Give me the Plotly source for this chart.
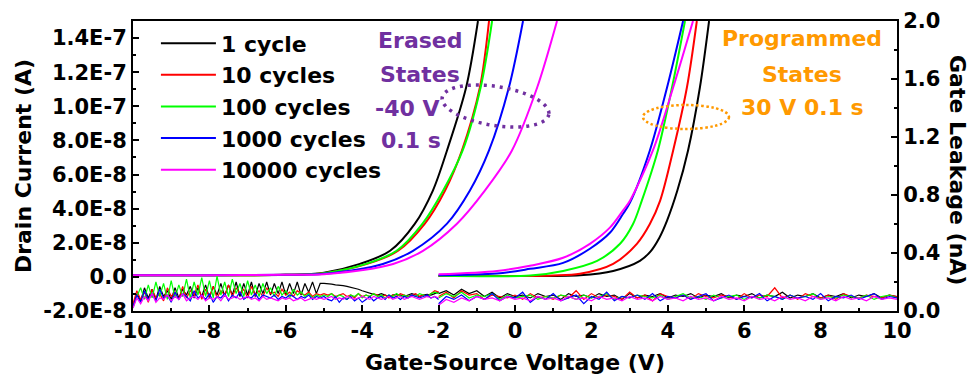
import numpy as np
import plotly.graph_objects as go

# ---------------- data ----------------
series_names = ["1 cycle", "10 cycles", "100 cycles", "1000 cycles", "10000 cycles"]
series_colors = ["#000000", "#FF0000", "#00FF00", "#0000FF", "#FF00FF"]

# Erased-state transfer curves: gate voltage (V), drain current (units of 1e-8 A)
erased_v = [
    [-10, -8, -6, -5.0, -4.06, -3.27, -2.62, -2.15, -1.78, -1.28, -0.97],
    [-10, -8, -6, -5.0, -3.87, -3.06, -2.36, -1.83, -1.39, -0.92, -0.68],
    [-10, -8, -6, -5.0, -3.90, -3.10, -2.42, -1.88, -1.37, -0.90, -0.60],
    [-10, -8, -6, -5.0, -3.46, -2.67, -1.78, -1.18, -0.68, -0.16, 0.21],
    [-10, -8, -6, -5.0, -3.19, -2.41, -1.52, -0.79, -0.08, 0.58, 1.10],
]
erased_i = [
    [0.10, 0.10, 0.12, 0.25, 0.76, 1.53, 3.12, 5.06, 7.41, 11.1, 15.0],
    [0.10, 0.10, 0.12, 0.22, 0.76, 1.53, 3.12, 5.06, 7.41, 11.1, 15.0],
    [0.10, 0.10, 0.12, 0.22, 0.76, 1.53, 3.12, 5.06, 7.41, 11.1, 15.0],
    [0.10, 0.10, 0.12, 0.18, 0.76, 1.53, 3.12, 5.06, 7.41, 11.1, 15.0],
    [0.10, 0.10, 0.12, 0.16, 0.76, 1.53, 3.12, 5.06, 7.41, 11.1, 15.0],
]

# Programmed-state transfer curves
prog_v = [
    [-2, 0, 1.7, 2.57, 3.27, 3.55, 3.78, 3.98, 4.25, 4.53, 4.84, 5.08],
    [-2, 0, 1.0, 1.70, 2.57, 3.19, 3.53, 3.80, 4.14, 4.50, 4.76],
    [-2, 0.4, 1.26, 2.15, 2.75, 3.09, 3.32, 3.74, 4.11, 4.45],
    [-2, -0.47, 0.39, 1.26, 1.96, 2.49, 2.83, 3.01, 3.53, 3.98, 4.40],
    [-2, -0.47, 0.39, 1.26, 1.96, 2.49, 2.83, 3.01, 3.61, 4.14, 4.66],
]
prog_i = [
    [0.05, 0.05, 0.10, 0.35, 0.94, 1.5, 2.3, 3.3, 5.06, 7.41, 11.1, 15.0],
    [0.05, 0.05, 0.08, 0.18, 0.76, 1.94, 3.1, 4.47, 7.41, 11.1, 15.0],
    [0.06, 0.08, 0.35, 0.94, 1.94, 3.1, 4.47, 7.41, 11.1, 15.0],
    [0.10, 0.20, 0.47, 0.82, 1.65, 2.6, 3.7, 4.35, 7.41, 11.1, 15.0],
    [0.15, 0.35, 0.65, 1.12, 1.94, 2.9, 3.9, 4.47, 7.41, 11.1, 15.0],
]

# Gate leakage (nA), erased sweep (-10 V .. -2 V)
leak_erased = [
    [0.03, 0.12, 0.07, 0.16, 0.09, 0.15, 0.08, 0.17, 0.10, 0.14,
     0.08, 0.16, 0.09, 0.15, 0.11, 0.17, 0.09, 0.16, 0.10, 0.18,
     0.09, 0.17, 0.11, 0.19, 0.10, 0.18, 0.11, 0.20, 0.10, 0.19,
     0.11, 0.20, 0.10, 0.19, 0.12, 0.20, 0.11, 0.19, 0.12, 0.20,
     0.11, 0.19, 0.12, 0.20, 0.11, 0.19, 0.13, 0.20, 0.12, 0.19, 0.19,
     0.19, 0.185, 0.18, 0.18, 0.175, 0.17, 0.165, 0.16, 0.15, 0.14,
     0.13, 0.12, 0.115, 0.11, 0.12, 0.11, 0.10, 0.11, 0.115, 0.11,
     0.10, 0.11, 0.12, 0.11, 0.10, 0.11, 0.115, 0.11, 0.12, 0.13],
    [0.05, 0.14, 0.08, 0.13, 0.06, 0.15, 0.09, 0.12, 0.07, 0.16,
     0.10, 0.13, 0.08, 0.17, 0.09, 0.14, 0.11, 0.18, 0.08, 0.15,
     0.10, 0.17, 0.09, 0.14, 0.11, 0.18, 0.10, 0.16, 0.12, 0.15,
     0.09, 0.17, 0.11, 0.14, 0.10, 0.16, 0.12, 0.13, 0.10, 0.15,
     0.11, 0.13, 0.10, 0.14, 0.12, 0.11, 0.13, 0.10, 0.12, 0.11, 0.12,
     0.11, 0.12, 0.10, 0.11, 0.12, 0.10, 0.11, 0.09, 0.12, 0.10,
     0.11, 0.10, 0.12, 0.11, 0.10, 0.11, 0.09, 0.11, 0.10, 0.12,
     0.11, 0.10, 0.11, 0.12, 0.10, 0.11, 0.10, 0.12, 0.14, 0.13],
    [0.02, 0.10, 0.16, 0.08, 0.18, 0.09, 0.20, 0.10, 0.19, 0.08,
     0.21, 0.09, 0.18, 0.10, 0.22, 0.09, 0.20, 0.11, 0.23, 0.10,
     0.21, 0.09, 0.24, 0.11, 0.20, 0.10, 0.22, 0.12, 0.19, 0.10,
     0.21, 0.11, 0.18, 0.10, 0.19, 0.12, 0.16, 0.10, 0.17, 0.11,
     0.14, 0.09, 0.15, 0.11, 0.13, 0.10, 0.12, 0.09, 0.11, 0.10, 0.11,
     0.10, 0.12, 0.09, 0.11, 0.10, 0.08, 0.11, 0.10, 0.12, 0.09,
     0.11, 0.10, 0.12, 0.10, 0.11, 0.09, 0.11, 0.10, 0.12, 0.10,
     0.11, 0.10, 0.11, 0.10, 0.12, 0.11, 0.10, 0.12, 0.13, 0.12],
    [0.03, 0.11, 0.06, 0.14, 0.08, 0.12, 0.07, 0.15, 0.09, 0.11,
     0.06, 0.13, 0.08, 0.12, 0.10, 0.07, 0.14, 0.09, 0.11, 0.08,
     0.12, 0.06, 0.10, 0.09, 0.12, 0.07, 0.11, 0.09, 0.13, 0.08,
     0.10, 0.09, 0.12, 0.08, 0.11, 0.10, 0.09, 0.11, 0.08, 0.10,
     0.09, 0.11, 0.10, 0.08, 0.10, 0.09, 0.11, 0.08, 0.10, 0.09, 0.10,
     0.08, 0.07, 0.10, 0.06, 0.09, 0.08, 0.10, 0.07, 0.09, 0.06,
     0.08, 0.10, 0.07, 0.09, 0.10, 0.08, 0.11, 0.09, 0.10, 0.08,
     0.10, 0.09, 0.11, 0.10, 0.09, 0.10, 0.11, 0.09, 0.10, 0.08],
    [0.02, 0.09, 0.05, 0.10, 0.07, 0.12, 0.06, 0.09, 0.08, 0.11,
     0.07, 0.10, 0.08, 0.12, 0.07, 0.09, 0.10, 0.08, 0.11, 0.07,
     0.09, 0.08, 0.10, 0.07, 0.11, 0.08, 0.09, 0.10, 0.08, 0.09,
     0.10, 0.08, 0.09, 0.07, 0.10, 0.08, 0.09, 0.08, 0.07, 0.09,
     0.08, 0.09, 0.07, 0.08, 0.09, 0.07, 0.08, 0.09, 0.08, 0.09, 0.08,
     0.09, 0.10, 0.08, 0.09, 0.08, 0.10, 0.09, 0.08, 0.09, 0.10,
     0.09, 0.08, 0.10, 0.09, 0.08, 0.09, 0.10, 0.08, 0.09, 0.10,
     0.08, 0.09, 0.10, 0.09, 0.08, 0.09, 0.10, 0.09, 0.10, 0.09],
]

# Gate leakage (nA), programmed sweep (-2 V .. 10 V)
leak_prog = [
    [0.12, 0.14, 0.11, 0.15, 0.12, 0.14, 0.10, 0.13, 0.09, 0.12, 0.10, 0.11, 0.09, 0.12, 0.10,
     0.11, 0.08, 0.12, 0.10, 0.11, 0.09, 0.12, 0.10, 0.11, 0.08, 0.12, 0.09, 0.11, 0.10, 0.12,
     0.09, 0.11, 0.10, 0.12, 0.09, 0.11, 0.10, 0.12, 0.09, 0.11, 0.10, 0.12, 0.09, 0.11, 0.10,
     0.13, 0.09, 0.11, 0.10, 0.12, 0.09, 0.11, 0.10, 0.12, 0.09, 0.11, 0.10, 0.12, 0.09, 0.11, 0.10],
    [0.10, 0.13, 0.09, 0.14, 0.11, 0.12, 0.08, 0.11, 0.10, 0.09, 0.11, 0.08, 0.12, 0.09, 0.10,
     0.08, 0.11, 0.09, 0.14, 0.08, 0.12, 0.09, 0.11, 0.10, 0.08, 0.13, 0.09, 0.11, 0.07, 0.12,
     0.10, 0.09, 0.11, 0.08, 0.12, 0.10, 0.09, 0.11, 0.10, 0.08, 0.12, 0.09, 0.11, 0.10, 0.16,
     0.09, 0.11, 0.08, 0.12, 0.10, 0.09, 0.11, 0.08, 0.12, 0.10, 0.09, 0.11, 0.10, 0.09, 0.11, 0.10],
    [0.09, 0.12, 0.10, 0.13, 0.09, 0.11, 0.10, 0.12, 0.08, 0.11, 0.09, 0.10, 0.11, 0.08, 0.10,
     0.09, 0.11, 0.10, 0.08, 0.11, 0.09, 0.10, 0.12, 0.08, 0.10, 0.09, 0.11, 0.10, 0.09, 0.11,
     0.08, 0.10, 0.12, 0.09, 0.10, 0.08, 0.11, 0.09, 0.10, 0.11, 0.08, 0.10, 0.09, 0.11, 0.10,
     0.08, 0.11, 0.09, 0.10, 0.12, 0.08, 0.10, 0.09, 0.11, 0.10, 0.09, 0.11, 0.08, 0.10, 0.11, 0.09],
    [0.05, 0.10, 0.08, 0.11, 0.07, 0.10, 0.08, 0.12, 0.07, 0.10, 0.09, 0.13, 0.06, 0.10, 0.08,
     0.12, 0.07, 0.09, 0.11, 0.05, 0.10, 0.08, 0.13, 0.07, 0.10, 0.09, 0.11, 0.08, 0.12, 0.07,
     0.10, 0.09, 0.11, 0.08, 0.10, 0.12, 0.07, 0.09, 0.11, 0.08, 0.10, 0.09, 0.12, 0.07, 0.10,
     0.08, 0.11, 0.09, 0.10, 0.08, 0.12, 0.07, 0.10, 0.09, 0.11, 0.08, 0.10, 0.12, 0.08, 0.10, 0.09],
    [0.04, 0.08, 0.06, 0.09, 0.07, 0.10, 0.08, 0.09, 0.07, 0.10, 0.08, 0.09, 0.07, 0.10, 0.08,
     0.09, 0.07, 0.10, 0.08, 0.09, 0.07, 0.10, 0.08, 0.09, 0.07, 0.10, 0.08, 0.09, 0.07, 0.10,
     0.08, 0.09, 0.07, 0.10, 0.08, 0.09, 0.07, 0.10, 0.08, 0.09, 0.07, 0.10, 0.08, 0.09, 0.07,
     0.10, 0.08, 0.09, 0.07, 0.10, 0.08, 0.09, 0.07, 0.10, 0.08, 0.09, 0.07, 0.10, 0.08, 0.09, 0.08],
]

x_tickvals = [-10, -8, -6, -4, -2, 0, 2, 4, 6, 8, 10]
x_ticktext = ["-10", "-8", "-6", "-4", "-2", "0", "2", "4", "6", "8", "10"]
left_tickvals = [-2e-8, 0, 2e-8, 4e-8, 6e-8, 8e-8, 1e-7, 1.2e-7, 1.4e-7]
left_ticktext = ["-2.0E-8", "0.0", "2.0E-8", "4.0E-8", "6.0E-8", "8.0E-8", "1.0E-7", "1.2E-7", "1.4E-7"]
right_tickvals = [0.0, 0.4, 0.8, 1.2, 1.6, 2.0]
right_ticktext = ["0.0", "0.4", "0.8", "1.2", "1.6", "2.0"]

# ---------------- figure ----------------
FONT = "DejaVu Sans"
fig = go.Figure()

# leakage (right axis)
for k in range(5):
    le = leak_erased[k]
    lp = leak_prog[k]
    fig.add_trace(go.Scatter(x=np.linspace(-10, -2, len(le)), y=le, mode="lines", yaxis="y2",
                             line=dict(color=series_colors[k], width=1.2),
                             legendgroup=series_names[k], showlegend=False, hoverinfo="skip"))
    fig.add_trace(go.Scatter(x=np.linspace(-2, 10, len(lp)), y=lp, mode="lines", yaxis="y2",
                             line=dict(color=series_colors[k], width=1.2),
                             legendgroup=series_names[k], showlegend=False, hoverinfo="skip"))

# transfer curves (left axis)
for k in range(5):
    fig.add_trace(go.Scatter(x=erased_v[k], y=np.array(erased_i[k]) * 1e-8, mode="lines",
                             name=series_names[k], legendgroup=series_names[k], showlegend=True,
                             line=dict(color=series_colors[k], width=2, shape="spline", smoothing=0.9)))
    fig.add_trace(go.Scatter(x=prog_v[k], y=np.array(prog_i[k]) * 1e-8, mode="lines",
                             name=series_names[k], legendgroup=series_names[k], showlegend=False,
                             line=dict(color=series_colors[k], width=2, shape="spline", smoothing=0.9)))

axis_common = dict(showline=True, linewidth=2, linecolor="black", ticks="inside", ticklen=6,
                   tickwidth=2, tickcolor="black", showgrid=False, zeroline=False, automargin=False)

fig.update_layout(
    width=977, height=381,
    margin=dict(l=133, r=80, t=21, b=70, autoexpand=False),
    plot_bgcolor="white", paper_bgcolor="white",
    font=dict(family=FONT, size=21, color="black", weight="bold"),
    xaxis=dict(range=[-10, 10], tickmode="array", tickvals=x_tickvals, ticktext=x_ticktext, mirror=True,
               minor=dict(ticks="inside", ticklen=3, tickwidth=2, tickcolor="black", dtick=1, tick0=0),
               title=dict(text="Gate-Source Voltage (V)", font=dict(size=22, family=FONT, weight="bold"), standoff=12),
               **axis_common),
    yaxis=dict(range=[-2e-8, 1.5e-7], tickmode="array", tickvals=left_tickvals, ticktext=left_ticktext,
               minor=dict(ticks="inside", ticklen=3, tickwidth=2, tickcolor="black", dtick=1e-8, tick0=0),
               title=dict(text="Drain Current (A)", font=dict(size=22, family=FONT, weight="bold"), standoff=6),
               **axis_common),
    yaxis2=dict(range=[0, 2.0], overlaying="y", side="right", tickmode="array",
                tickvals=right_tickvals, ticktext=right_ticktext,
                minor=dict(ticks="inside", ticklen=3, tickwidth=2, tickcolor="black", dtick=0.2, tick0=0),
                **axis_common),
    legend=dict(x=0.03, y=0.995, xanchor="left", yanchor="top", bgcolor="rgba(0,0,0,0)",
                font=dict(size=22, family=FONT, weight="bold"), itemwidth=55, tracegroupgap=0),
    showlegend=True,
)

def px2paper(px, py):
    return (px - 133) / 764.0, (311 - py) / 290.0

PURPLE = "#7030A0"
ORANGE = "#FF9900"
labels = [
    ("Erased", 420, 40, PURPLE), ("States", 420, 74, PURPLE),
    ("-40 V", 407, 108, PURPLE), ("0.1 s", 411, 140, PURPLE),
    ("Programmed", 802, 38, ORANGE), ("States", 802, 74, ORANGE), ("30 V 0.1 s", 802, 107, ORANGE),
]
for txt, px, py, col in labels:
    xp, yp = px2paper(px, py)
    fig.add_annotation(x=xp, y=yp, xref="paper", yref="paper", text=txt, showarrow=False,
                       xanchor="center", yanchor="middle",
                       font=dict(size=22, color=col, family=FONT, weight="bold"))

# right axis title
xp, yp = px2paper(958, 170)
fig.add_annotation(x=xp, y=yp, xref="paper", yref="paper", text="Gate Leakage (nA)", showarrow=False,
                   textangle=90, xanchor="center", yanchor="middle",
                   font=dict(size=22, color="black", family=FONT, weight="bold"))

# dotted ellipses (tilted purple, flat orange)
t = np.linspace(0, 2 * np.pi, 73)
cx, cy, a, b, ang = 495.5, 106.0, 54.0, 19.5, np.deg2rad(9.0)
ex = cx + a * np.cos(t) * np.cos(ang) - b * np.sin(t) * np.sin(ang)
ey = cy + a * np.cos(t) * np.sin(ang) + b * np.sin(t) * np.cos(ang)
pts = [px2paper(u, v) for u, v in zip(ex, ey)]
path = "M " + " L ".join(f"{u:.5f},{v:.5f}" for u, v in pts) + " Z"
fig.add_shape(type="path", path=path, xref="paper", yref="paper",
              line=dict(color=PURPLE, width=3.5, dash="3px,5px"))
x0, y0 = px2paper(643, 105)
x1, y1 = px2paper(729, 129)
fig.add_shape(type="circle", xref="paper", yref="paper", x0=x0, y0=y1, x1=x1, y1=y0,
              line=dict(color=ORANGE, width=2.5, dash="2.5px,2.5px"))

fig.write_html("out.html", config={"displayModeBar": False},
               post_script="document.body.style.margin='0';document.body.style.padding='0';")
